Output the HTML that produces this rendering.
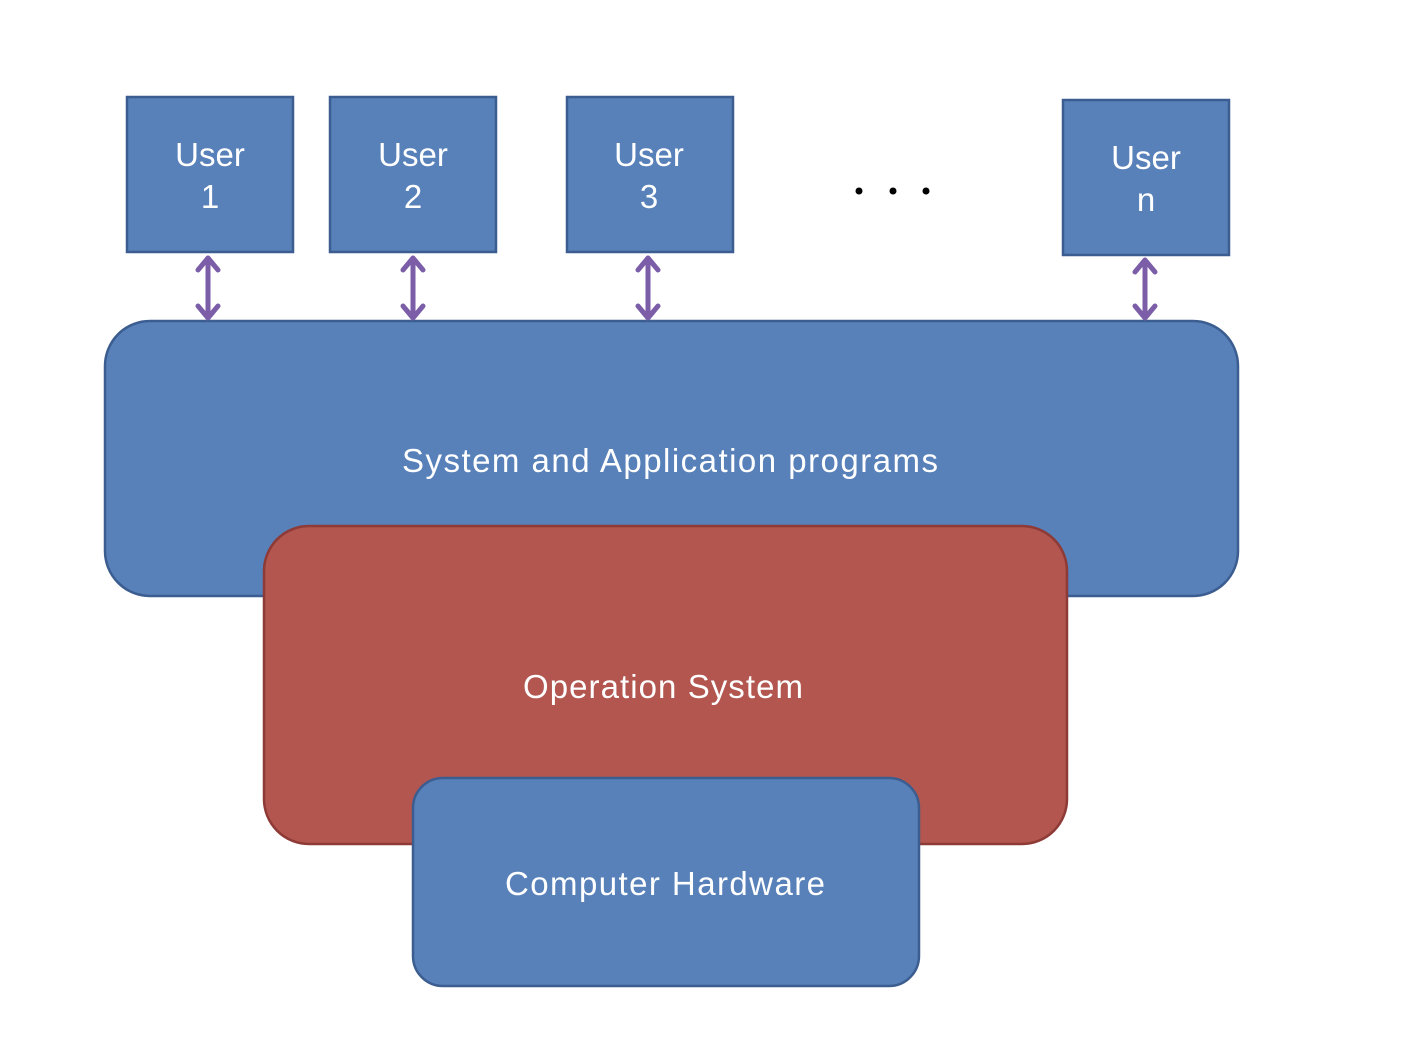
<!DOCTYPE html>
<html><head><meta charset="utf-8"><style>
html,body{margin:0;padding:0;background:#fff;}
svg{display:block;}
text{font-family:"Liberation Sans","DejaVu Sans",sans-serif;fill:#fff;}
</style></head><body>
<svg width="1412" height="1062" viewBox="0 0 1412 1062" xmlns="http://www.w3.org/2000/svg">
<g stroke="#3b5d8f" stroke-width="2.5" fill="#5881ba">
<rect x="127" y="97" width="166" height="155"/>
<rect x="330" y="97" width="166" height="155"/>
<rect x="567" y="97" width="166" height="155"/>
<rect x="1063" y="100" width="166" height="155"/>
<rect x="105" y="321" width="1133" height="275" rx="45"/>
</g>
<rect x="264" y="526" width="803" height="318" rx="45" fill="#b2564f" stroke="#8e3a36" stroke-width="2.5"/>
<rect x="413" y="778" width="506" height="208" rx="30" fill="#5881ba" stroke="#3b5d8f" stroke-width="2.5"/>
<g stroke="#7b5ea7" stroke-width="5" fill="none" stroke-linecap="round" stroke-linejoin="round">
<path d="M208 258V318M198 270L208 258L218 270M198 306L208 318L218 306"/>
<path d="M413 258V318M403 270L413 258L423 270M403 306L413 318L423 306"/>
<path d="M648 258V318M638 270L648 258L658 270M638 306L648 318L658 306"/>
<path d="M1145 260V318M1135 272L1145 260L1155 272M1135 306L1145 318L1155 306"/>
</g>
<g fill="#000"><circle cx="859" cy="191" r="3.5"/><circle cx="893" cy="191" r="3.5"/><circle cx="926" cy="191" r="3.5"/></g>
<g font-size="33" text-anchor="middle">
<text x="210" y="166">User</text><text x="210" y="208">1</text>
<text x="413" y="166">User</text><text x="413" y="208">2</text>
<text x="649" y="166">User</text><text x="649" y="208">3</text>
<text x="1146" y="169">User</text><text x="1146" y="211">n</text>
</g>
<g font-size="33">
<text x="402" y="472" textLength="536" lengthAdjust="spacing">System and Application programs</text>
<text x="523" y="698" textLength="280" lengthAdjust="spacing">Operation System</text>
<text x="505" y="895" textLength="320" lengthAdjust="spacing">Computer Hardware</text>
</g>
</svg>
</body></html>
